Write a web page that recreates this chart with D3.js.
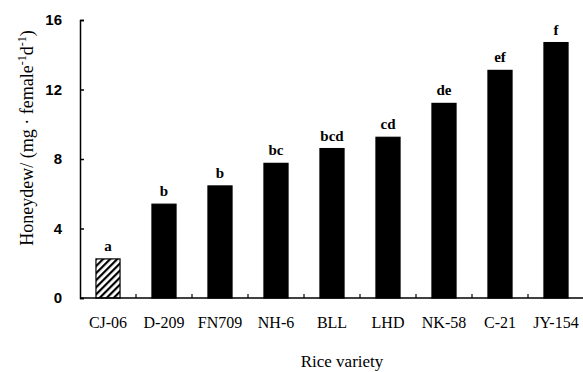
<!DOCTYPE html>
<html>
<head>
<meta charset="utf-8">
<script src="https://cdn.jsdelivr.net/npm/d3@7"></script>
<style>
  body { margin: 0; background: #fff; }
  .ylab text { font-family: "Liberation Sans", Arial, sans-serif; }
  .serif { font-family: "Liberation Serif", "Times New Roman", serif; }
</style>
</head>
<body>
<svg id="chart" width="583" height="372"></svg>
<script>
// data
var varieties = ["CJ-06", "D-209", "FN709", "NH-6", "BLL", "LHD", "NK-58", "C-21", "JY-154"];
var honeydew = [2.25, 5.4, 6.45, 7.75, 8.6, 9.25, 11.2, 13.1, 14.7];
var letters = ["a", "b", "b", "bc", "bcd", "cd", "de", "ef", "f"];
var yTicks = [0, 4, 8, 12, 16];

var svg = d3.select("#chart");
var padL = 80, padR = 584, padT = 20, padB = 298;

var x = d3.scaleBand().domain(varieties).range([padL, padR]).paddingInner(0.57).paddingOuter(0.285);
var y = d3.scaleLinear().domain([0, 16]).range([padB, padT]);

// hatch for the first bar
var defs = svg.append("defs");
defs.append("pattern")
    .attr("id", "hatch")
    .attr("patternUnits", "userSpaceOnUse")
    .attr("width", 5).attr("height", 5)
    .attr("patternTransform", "rotate(45)")
  .append("rect")
    .attr("width", 2.2).attr("height", 5)
    .attr("fill", "#000");

// bars
svg.selectAll("rect.bar")
    .data(honeydew)
  .enter().append("rect")
    .attr("class", "bar")
    .attr("x", function(d, i) { return x(varieties[i]); })
    .attr("width", x.bandwidth())
    .attr("y", function(d) { return y(d); })
    .attr("height", function(d) { return padB - y(d); })
    .attr("fill", function(d, i) { return i == 0 ? "url(#hatch)" : "#000"; })
    .attr("stroke", "#000")
    .attr("stroke-width", 1.2);

// significance letters
svg.selectAll("text.sig")
    .data(honeydew)
  .enter().append("text")
    .attr("class", "sig serif")
    .attr("x", function(d, i) { return x(varieties[i]) + x.bandwidth() / 2; })
    .attr("y", function(d) { return y(d) - 8; })
    .attr("text-anchor", "middle")
    .attr("font-size", 15)
    .attr("font-weight", "bold")
    .text(function(d, i) { return letters[i]; });

// y axis
var yAxis = d3.axisLeft(y).tickValues(yTicks).tickSize(-4).tickPadding(18);
var gy = svg.append("g").attr("class", "ylab").attr("transform", "translate(" + padL + ",0)").call(yAxis);
gy.select(".domain").attr("stroke-width", 1.5);
gy.selectAll(".tick line").attr("stroke-width", 1.5);
gy.selectAll("text").attr("font-size", 15).attr("font-weight", "bold").attr("fill", "#000");

// x axis: small ticks between categories
svg.append("line")
    .attr("x1", padL).attr("x2", padR)
    .attr("y1", padB).attr("y2", padB)
    .attr("stroke", "#000").attr("stroke-width", 1.5);
var step = x.step();
svg.selectAll("line.xt")
    .data(varieties.slice(1))
  .enter().append("line")
    .attr("class", "xt")
    .attr("x1", function(d) { return x(d) - step * 0.285; })
    .attr("x2", function(d) { return x(d) - step * 0.285; })
    .attr("y1", padB).attr("y2", padB - 4)
    .attr("stroke", "#000").attr("stroke-width", 1.2);

svg.selectAll("text.xl")
    .data(varieties)
  .enter().append("text")
    .attr("class", "xl serif")
    .attr("x", function(d) { return x(d) + x.bandwidth() / 2; })
    .attr("y", 328)
    .attr("text-anchor", "middle")
    .attr("font-size", 16)
    .text(function(d) { return d; });

// axis titles
svg.append("text")
    .attr("class", "serif")
    .attr("x", 342).attr("y", 367)
    .attr("text-anchor", "middle")
    .attr("font-size", 17)
    .text("Rice variety");

var yt = svg.append("text")
    .attr("class", "serif")
    .attr("transform", "translate(33,138) rotate(-90)")
    .attr("text-anchor", "middle")
    .attr("font-size", 18);
yt.append("tspan").text("Honeydew/ (mg · female");
yt.append("tspan").attr("dy", -7).attr("font-size", 12).text("-1");
yt.append("tspan").attr("dy", 7).text("d");
yt.append("tspan").attr("dy", -7).attr("font-size", 12).text("-1");
yt.append("tspan").attr("dy", 7).text(")");
</script>
</body>
</html>
